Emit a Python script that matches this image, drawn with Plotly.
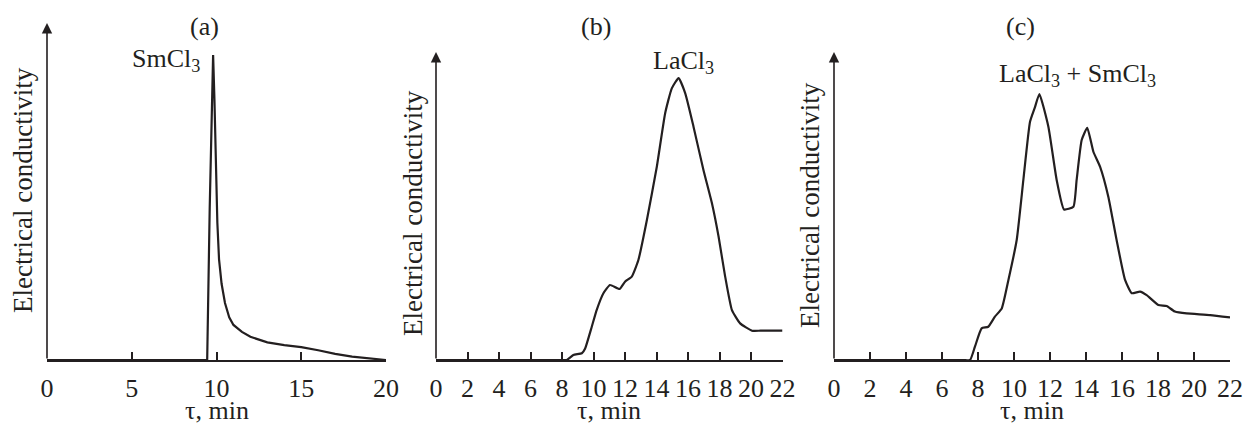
import plotly.graph_objects as go

# ---------------- data ----------------
# (a) SmCl3
t_a = [0, 9.45, 9.6, 9.75, 9.8, 9.88, 9.95, 10.05, 10.15, 10.3, 10.5, 10.75, 11.0,
       11.5, 12.0, 13.0, 14.0, 15.0, 16.0, 17.0, 18.0, 19.0, 20.0]
g_a = [0, 0, 50, 95, 100, 85, 65, 45, 33, 25, 18.7, 14, 11.5,
       9.2, 7.6, 5.8, 4.9, 4.2, 3.2, 2.0, 1.1, 0.5, 0]

# (b) LaCl3
t_b = [0, 3, 6, 7.8, 8.3, 8.72, 9.26, 9.47, 9.89, 10.2, 10.63, 11.05, 11.65, 12.0, 12.43,
       12.85, 13.39, 14.02, 14.55, 14.97, 15.4, 15.82, 16.35, 16.98, 17.52, 17.94, 18.36,
       18.79, 19.31, 20.06, 20.6, 21.3, 22.0]
g_b = [0, 0, 0, 0, 0, 1.8, 2.4, 4.1, 11.8, 17.7, 23.7, 26.6, 25.2, 27.8, 29.6,
       35.5, 49.7, 68.6, 87.6, 96.4, 100, 94.7, 82.8, 67.4, 55.6, 43.8, 29.6,
       17.7, 13.0, 10.4, 10.4, 10.4, 10.4]

# (c) LaCl3 + SmCl3
t_c = [0, 3, 6, 7.2, 7.56, 7.83, 8.2, 8.57, 8.94, 9.32, 9.69, 10.15, 10.52, 10.89, 11.17,
       11.41, 11.91, 12.37, 12.78, 13.3, 13.48, 13.76, 14.07, 14.41, 14.78, 15.24, 15.7,
       16.17, 16.54, 17.0, 17.37, 18.02, 18.48, 18.94, 19.59, 20.9, 22.0]
g_c = [0, 0, 0, 0, 0, 5.0, 11.9, 12.5, 16.3, 19.4, 30.1, 45.1, 67.7, 89.6, 95.2,
       100, 87.7, 67.7, 56.6, 57.6, 67.7, 82.7, 87.3, 78.3, 72.7, 61.4, 45.1,
       30.1, 25.1, 25.7, 24.4, 20.7, 20.3, 18.2, 17.5, 16.9, 16.0]

ticks_a = [0, 5, 10, 15, 20]
ticks_bc = list(range(0, 23, 2))
panel_labels = ["(a)", "(b)", "(c)"]
peak_labels = ["SmCl<sub>3</sub>", "LaCl<sub>3</sub>", "LaCl<sub>3</sub> + SmCl<sub>3</sub>"]
y_title = "Electrical conductivity"
x_title = "τ, min"

# ---------------- layout helpers ----------------
W, H = 1244, 424
INK = "#231f20"
FONT = "Liberation Serif, Times New Roman, serif"
FS = 26

def px_x(p):
    return p / W

def px_y(p):
    return (H - p) / H

panels = [
    dict(t=t_a, g=g_a, ticks=ticks_a, xr=[0, 20], xd=[47, 386], ytop=110.5, ydt=23,
         plab_x=204, peak_x=166, peak_y=60, ylab_x=23, ylab_y=190, shape="linear"),
    dict(t=t_b, g=g_b, ticks=ticks_bc, xr=[0, 22], xd=[436, 782.5], ytop=109.3, ydt=52,
         plab_x=596, peak_x=683, peak_y=62, ylab_x=413, ylab_y=213, shape="spline"),
    dict(t=t_c, g=g_c, ticks=ticks_bc, xr=[0, 22], xd=[834, 1230], ytop=115.8, ydt=52,
         plab_x=1020, peak_x=1077, peak_y=75, ylab_x=810, ylab_y=205, shape="spline"),
]

fig = go.Figure()
annotations = []
layout = {}
for i, p in enumerate(panels):
    n = "" if i == 0 else str(i + 1)
    xa, ya = "x" + n, "y" + n
    line = dict(color=INK, width=2.2, shape=p["shape"])
    if p["shape"] == "spline":
        line["smoothing"] = 0.45
    fig.add_trace(go.Scatter(x=p["t"], y=p["g"], mode="lines", line=line,
                             xaxis=xa, yaxis=ya, showlegend=False, hoverinfo="skip"))
    layout["xaxis" + n] = dict(
        domain=[px_x(p["xd"][0]), px_x(p["xd"][1])], range=p["xr"], anchor=ya,
        showline=True, linecolor=INK, linewidth=2, ticks="inside", ticklen=8,
        tickwidth=1.5, tickcolor=INK, tickvals=p["ticks"],
        ticktext=[str(v) for v in p["ticks"]], showgrid=False, zeroline=False,
        tickfont=dict(family=FONT, size=FS, color=INK), ticklabelstandoff=4,
        automargin=False, fixedrange=True)
    layout["yaxis" + n] = dict(
        domain=[px_y(360), px_y(p["ydt"])], range=[0, p["ytop"]], anchor=xa,
        showline=False, showticklabels=False, ticks="", showgrid=False,
        zeroline=False, automargin=False, fixedrange=True)
    annotations.append(dict(x=0, y=p["ytop"], ax=0, ay=0, xref=xa, yref=ya,
                            axref=xa, ayref=ya, text="", showarrow=True,
                            arrowhead=2, arrowsize=1.3, arrowwidth=1.6,
                            arrowcolor=INK, standoff=0, startstandoff=0))
    annotations.append(dict(x=px_x(p["plab_x"]), y=px_y(26), xref="paper", yref="paper",
                            text=panel_labels[i], showarrow=False,
                            font=dict(family=FONT, size=FS, color=INK),
                            xanchor="center", yanchor="middle"))
    annotations.append(dict(x=px_x(p["peak_x"]), y=px_y(p["peak_y"]), xref="paper",
                            yref="paper", text=peak_labels[i], showarrow=False,
                            font=dict(family=FONT, size=FS, color=INK),
                            xanchor="center", yanchor="middle"))
    annotations.append(dict(x=px_x(p["ylab_x"]), y=px_y(p["ylab_y"]), xref="paper",
                            yref="paper", text=y_title, showarrow=False, textangle=-90,
                            font=dict(family=FONT, size=27, color=INK),
                            xanchor="center", yanchor="middle"))
    annotations.append(dict(x=px_x((p["xd"][0] + p["xd"][1]) / 2), y=px_y(410),
                            xref="paper", yref="paper", text=x_title, showarrow=False,
                            font=dict(family=FONT, size=FS, color=INK),
                            xanchor="center", yanchor="middle"))

fig.update_layout(**layout)
fig.update_layout(width=W, height=H, autosize=False,
                  margin=dict(l=0, r=0, t=0, b=0, pad=0, autoexpand=False),
                  paper_bgcolor="white", plot_bgcolor="white",
                  annotations=annotations)

fig.write_html("out.html", config={"responsive": False, "displayModeBar": False},
               post_script="document.body.style.margin='0';document.body.style.overflow='hidden';")
